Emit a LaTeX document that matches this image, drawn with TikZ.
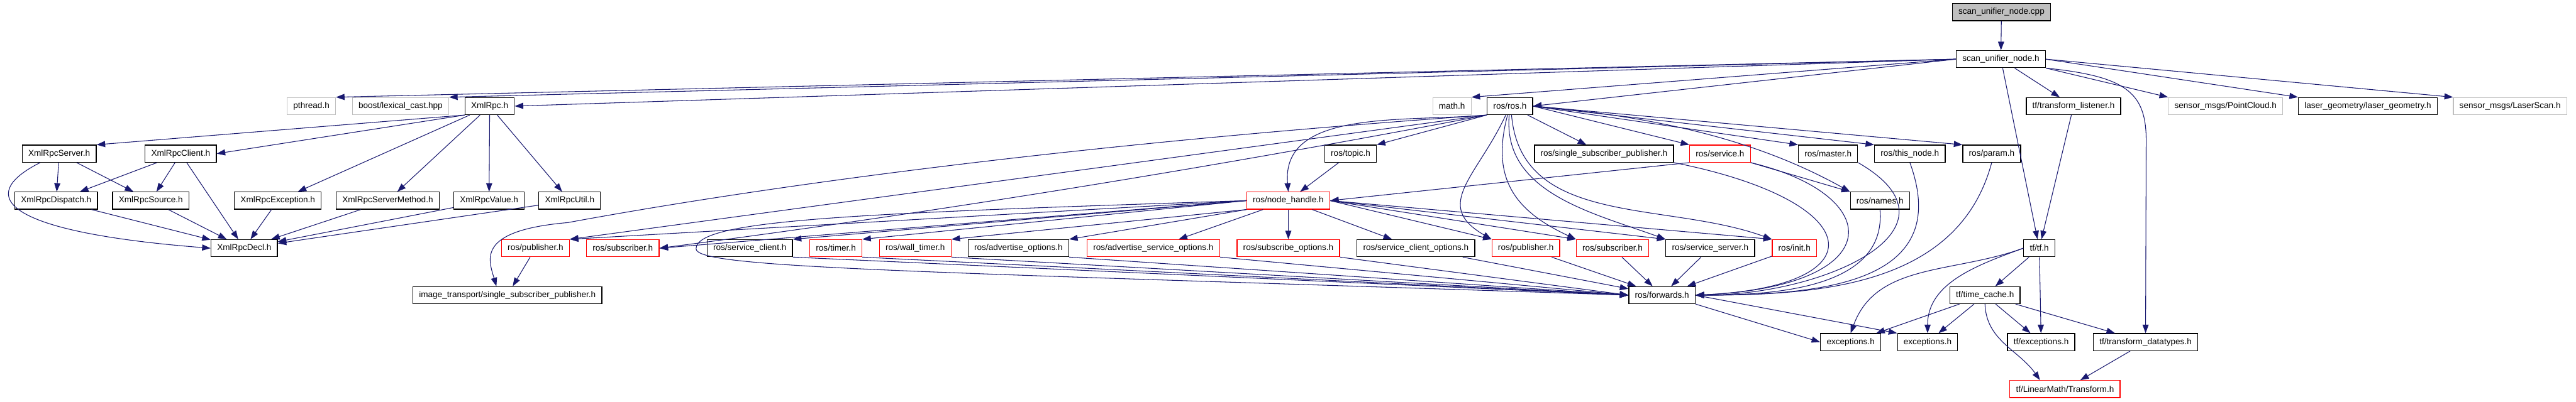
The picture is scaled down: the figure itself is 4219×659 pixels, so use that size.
\documentclass[tikz,border=0pt]{standalone}
\usepackage{fontspec}
\setmainfont{Liberation Sans}
\usetikzlibrary{arrows.meta}
\definecolor{edgeblue}{HTML}{191970}
\definecolor{extgrey}{HTML}{BFBFBF}
\begin{document}
\begin{tikzpicture}[x=1pt, y=1pt,
  every node/.style={draw, line width=1.3pt, minimum height=28pt, inner xsep=10pt, inner ysep=0pt, font=\fontsize{14}{16}\selectfont},
  hdr/.style={draw=black},
  ext/.style={draw=extgrey},
  trunc/.style={draw=red},
  rootfile/.style={draw=black, fill=extgrey},
  incl/.style={draw=edgeblue, line width=1.1pt, -{Triangle[length=14pt,width=10pt]}}]
\useasboundingbox (0,0) rectangle (4219,-659);
\node[rootfile] (cpp) at (3278,-20) {scan\_unifier\_node.cpp};
\node[hdr] (sun) at (3277,-97) {scan\_unifier\_node.h};
\node[ext] (pthread) at (510,-174) {pthread.h};
\node[ext] (boost) at (656,-174) {boost/lexical\_cast.hpp};
\node[hdr] (xmlrpc) at (802,-174) {XmlRpc.h};
\node[ext] (math) at (2378,-174) {math.h};
\node[hdr] (rosros) at (2473,-174) {ros/ros.h};
\node[hdr] (tflisten) at (3396,-174) {tf/transform\_listener.h};
\node[ext] (pcloud) at (3645,-174) {sensor\_msgs/PointCloud.h};
\node[hdr] (lgeom) at (3878,-174) {laser\_geometry/laser\_geometry.h};
\node[ext] (lscan) at (4111,-174) {sensor\_msgs/LaserScan.h};
\node[hdr] (xserver) at (97,-252) {XmlRpcServer.h};
\node[hdr] (xclient) at (296,-252) {XmlRpcClient.h};
\node[hdr] (topic) at (2212,-252) {ros/topic.h};
\node[hdr] (sspub) at (2627,-252) {ros/single\_subscriber\_publisher.h};
\node[trunc] (service) at (2817,-252) {ros/service.h};
\node[hdr] (master) at (2994,-252) {ros/master.h};
\node[hdr] (thisnode) at (3128,-252) {ros/this\_node.h};
\node[hdr] (param) at (3262,-252) {ros/param.h};
\node[hdr] (xdisp) at (92,-329) {XmlRpcDispatch.h};
\node[hdr] (xsource) at (247,-329) {XmlRpcSource.h};
\node[hdr] (xexcept) at (455,-329) {XmlRpcException.h};
\node[hdr] (xmethod) at (635,-329) {XmlRpcServerMethod.h};
\node[hdr] (xvalue) at (801,-329) {XmlRpcValue.h};
\node[hdr] (xutil) at (933,-329) {XmlRpcUtil.h};
\node[trunc] (nh) at (2110,-329) {ros/node\_handle.h};
\node[hdr] (names) at (3079,-329) {ros/names.h};
\node[hdr] (xdecl) at (400,-407) {XmlRpcDecl.h};
\node[trunc] (pubA) at (877,-407) {ros/publisher.h};
\node[trunc] (subA) at (1020,-407) {ros/subscriber.h};
\node[hdr] (sclient) at (1228,-407) {ros/service\_client.h};
\node[trunc] (timer) at (1369,-407) {ros/timer.h};
\node[trunc] (wtimer) at (1499,-407) {ros/wall\_timer.h};
\node[hdr] (advopt) at (1668,-407) {ros/advertise\_options.h};
\node[trunc] (advsrv) at (1889,-407) {ros/advertise\_service\_options.h};
\node[trunc] (subopt) at (2110,-407) {ros/subscribe\_options.h};
\node[hdr] (scopt) at (2319,-407) {ros/service\_client\_options.h};
\node[trunc] (pubB) at (2499,-407) {ros/publisher.h};
\node[trunc] (subB) at (2641,-407) {ros/subscriber.h};
\node[hdr] (ssrv) at (2801,-407) {ros/service\_server.h};
\node[trunc] (init) at (2939,-407) {ros/init.h};
\node[hdr] (tf) at (3340,-407) {tf/tf.h};
\node[hdr] (itssp) at (831,-484) {image\_transport/single\_subscriber\_publisher.h};
\node[hdr] (fwd) at (2722,-484) {ros/forwards.h};
\node[hdr] (tcache) at (3251,-484) {tf/time\_cache.h};
\node[hdr] (excA) at (3031,-561) {exceptions.h};
\node[hdr] (excB) at (3157,-561) {exceptions.h};
\node[hdr] (tfexc) at (3343,-561) {tf/exceptions.h};
\node[hdr] (tfdt) at (3514,-561) {tf/transform\_datatypes.h};
\node[trunc] (lmath) at (3382,-638) {tf/LinearMath/Transform.h};

\draw[incl] (cpp) -- (sun);
\draw[incl] (sun.west) -- (pthread.north east);
\draw[incl] (sun.west) -- (boost.north east);
\draw[incl] (sun.west) -- (xmlrpc.east);
\draw[incl] (sun.west) -- (math.north east);
\draw[incl] (sun.west) -- (rosros.east);
\draw[incl] (sun) -- (tflisten);
\draw[incl] (sun) -- (tf);
\draw[incl] (sun.south east) -- (pcloud.north west);
\draw[incl] (sun.east) -- (lgeom.north west);
\draw[incl] (sun.east) -- (lscan.north west);
\draw[incl] (sun.south east) .. controls (3480,-125) and (3515,-150) .. (3515,-230) -- (tfdt.north);

\draw[incl] (xmlrpc.south west) -- (xserver.north east);
\draw[incl] (xmlrpc.south west) -- (xclient.east);
\draw[incl] (xmlrpc) -- (xexcept);
\draw[incl] (xmlrpc) -- (xmethod);
\draw[incl] (xmlrpc) -- (xvalue);
\draw[incl] (xmlrpc) -- (xutil);
\draw[incl] (xserver) -- (xdisp);
\draw[incl] (xserver) -- (xsource);
\draw[incl] (xclient) -- (xdisp);
\draw[incl] (xclient) -- (xsource);
\draw[incl] ([xshift=30pt]xserver.south west) .. controls (-40,-320) and (0,-380) .. (xdecl.west);
\foreach \n in {xclient,xdisp,xsource,xexcept,xmethod,xvalue,xutil}
  \draw[incl] (\n) -- (xdecl);

\draw[incl] (rosros.south west) -- (topic.north east);
\draw[incl] (rosros.south west) to[out=185,in=95] (nh.north);
\draw[incl] (topic) -- (nh);
\draw[incl] (service.south west) -- (nh.east);
\draw[incl] (rosros) -- (sspub);
\draw[incl] (rosros.east) -- (service.north west);
\draw[incl] (rosros.east) -- (master.north west);
\draw[incl] (rosros.east) -- (thisnode.north west);
\draw[incl] (rosros.east) -- (param.north west);
\draw[incl] (rosros.east) .. controls (2700,-190) and (2870,-225) .. (names.north west);
\draw[incl] (service.south east) -- (names.north west);
\draw[incl] (rosros.-115) to[out=-115,in=150,looseness=1.4] (pubB.north west);
\draw[incl] (rosros.-105) to[out=-105,in=155,looseness=1.2] (subB.north west);
\draw[incl] (rosros.-95) to[out=-95,in=160] (ssrv.north west);
\draw[incl] (rosros.-80) to[out=-85,in=160] (init.north west);
\draw[incl] (rosros.south west) .. controls (1700,-240) and (1200,-315) .. (930,-365)
  .. controls (780,-378) and (800,-425) .. ([xshift=-18pt]itssp.north);
\draw[incl] (rosros.south west) -- (pubA.north east);
\draw[incl] (rosros.south west) .. controls (1984,-275) and (1533,-348) .. (subA.east);
\draw[incl] (pubA) -- (itssp);

\draw[incl] (nh.west) -- (subA.east);
\draw[incl] (nh.west) -- (pubA.north east);
\draw[incl] (nh.west) -- (sclient.north east);
\draw[incl] (nh.west) -- (timer.north east);
\draw[incl] (nh.south west) -- (wtimer.north east);
\draw[incl] (nh.south west) -- (advopt.north east);
\draw[incl] (nh) -- (advsrv);
\draw[incl] (nh) -- (subopt);
\draw[incl] (nh) -- (scopt);
\draw[incl] (nh.east) -- (pubB.north west);
\draw[incl] (nh.east) -- (subB.north west);
\draw[incl] (nh.east) -- (ssrv.north west);
\draw[incl] (nh.east) -- (init.north west);
\draw[incl] (nh.west) .. controls (1400,-350) and (1140,-360) .. (1140,-408)
  .. controls (1140,-440) and (1500,-445) .. (fwd.west);

\foreach \n in {sclient,timer,wtimer,advopt,advsrv,subopt}
  \draw[incl] (\n.south east) -- (fwd.west);
\draw[incl] (scopt) -- (fwd);
\draw[incl] (pubB) -- (fwd);
\draw[incl] (subB) -- (fwd);
\draw[incl] (ssrv) -- (fwd);
\draw[incl] (init) -- (fwd);
\draw[incl] (sspub.south east) .. controls (3060,-330) and (3080,-470) .. (fwd.east);
\draw[incl] (service.south east) .. controls (3090,-320) and (3095,-470) .. (fwd.east);
\draw[incl] (master.south east) to[out=-30,in=0,looseness=1.6] (fwd.east);
\draw[incl] (thisnode.south) to[out=-70,in=0,looseness=1.3] (fwd.east);
\draw[incl] (param.south) to[out=-105,in=0] (fwd.east);
\draw[incl] (names.south) to[out=-85,in=0] (fwd.east);
\draw[incl] (fwd.south east) -- (excA.west);
\draw[incl] (fwd.east) -- (excB.north west);

\draw[incl] (tflisten) -- (tf);
\draw[incl] (tf.west) to[out=200,in=70] (excA.north);
\draw[incl] (tf.west) to[out=200,in=90] (excB.north);
\draw[incl] (tf) -- (tcache);
\draw[incl] (tf) -- (tfexc);
\draw[incl] (tcache) -- (excA);
\draw[incl] (tcache) -- (excB);
\draw[incl] (tcache) -- (tfexc);
\draw[incl] (tcache) -- (tfdt);
\draw[incl] (tcache.south) to[out=-88,in=125] ([xshift=50pt]lmath.north west);
\draw[incl] (tfdt) -- (lmath);
\end{tikzpicture}
\end{document}
